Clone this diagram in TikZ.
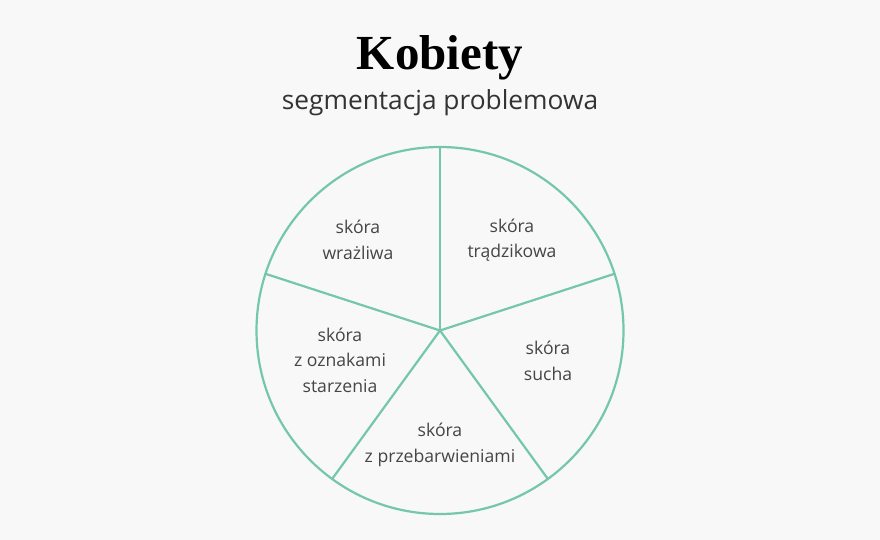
\documentclass[tikz,border=0pt]{standalone}
\usepackage{fontspec}
\setmainfont{Open Sans}
\newfontfamily\titlefont{Liberation Serif}
\usetikzlibrary{calc}
\definecolor{ring}{HTML}{74C7AC}
\definecolor{paper}{HTML}{F8F8F8}
\definecolor{ink}{HTML}{454545}
\tikzset{
	segment label/.style={align=center,text=ink,font=\fontsize{17.6}{25.5}\selectfont},
	spoke/.style={draw=ring,line width=2.2pt}
}

\begin{document}
\begin{tikzpicture}[x=1pt,y=-1pt]
	\fill [paper] (0,0) rectangle (880,540);
	\useasboundingbox (0,0) rectangle (880,540);
	\node [anchor=base,font=\titlefont\bfseries\fontsize{49}{49}\selectfont] (title) at (440,70) {Kobiety};
	\node [anchor=base,text=black!80,font=\fontsize{26.3}{30}\selectfont] (subtitle) at (440,110) {segmentacja problemowa};
	\coordinate (center) at (440,330.5);
	\draw [spoke] (center) circle [radius=183.5pt];
	\foreach \a [count=\i] in {90,18,-54,-126,162}
		\coordinate (rim-\i) at ($(center)+(\a:183.5pt)$);
	\foreach \i in {1,...,5}
		\draw [spoke,line cap=round] (center) -- (rim-\i);
	\node [segment label] (label-acne) at (512,240) {skóra\\trądzikowa};
	\node [segment label] (label-dry) at (548,361) {skóra\\sucha};
	\node [segment label] (label-spots) at (440,445) {skóra\\z przebarwieniami};
	\node [segment label] (label-aging) at (340,360) {skóra\\z oznakami\\starzenia};
	\node [segment label] (label-sensitive) at (358,240) {skóra\\wrażliwa};
\end{tikzpicture}
\end{document}
